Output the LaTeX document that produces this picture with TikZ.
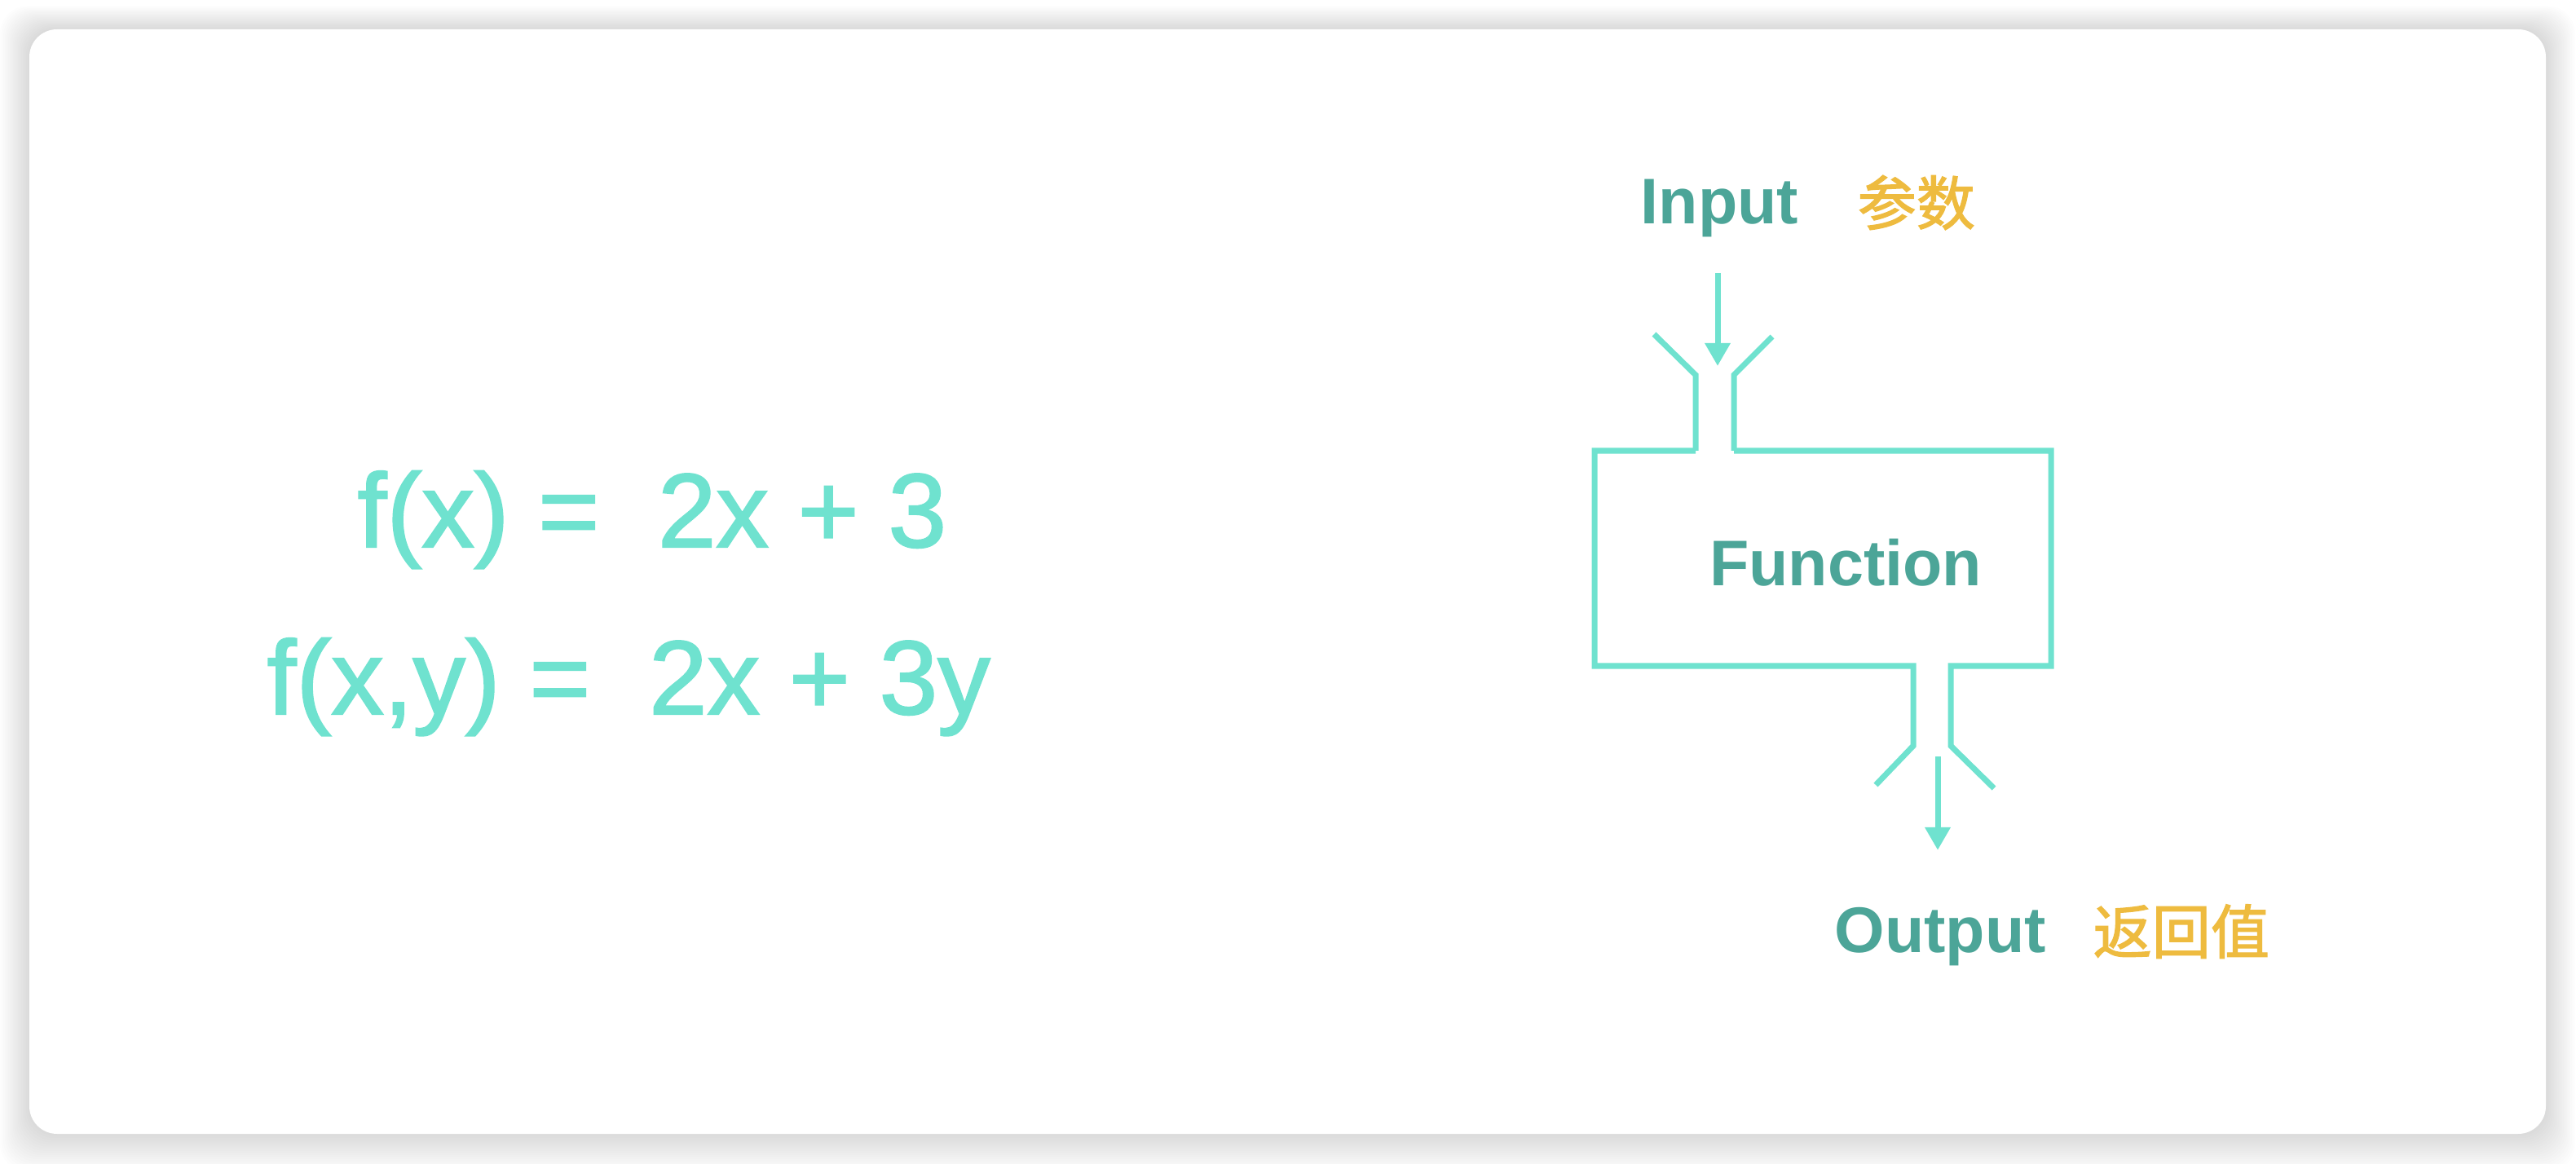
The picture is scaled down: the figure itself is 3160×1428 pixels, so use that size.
\documentclass[tikz,border=0pt]{standalone}
\usepackage{fontspec}
\setmainfont{Liberation Sans}
\newfontfamily\cjk[FakeBold=1.8]{Noto Sans CJK SC}
\newfontfamily\formfont[FakeBold=1.6]{Liberation Sans}
\usetikzlibrary{arrows.meta}
\definecolor{tealtext}{HTML}{4CA598}
\definecolor{aqua}{HTML}{6FE2CF}
\definecolor{gold}{HTML}{EEBB3F}
\tikzset{
  lbl/.style={inner sep=0pt, anchor=base west, text=tealtext, font=\fontsize{22.5}{26}\selectfont\bfseries},
  cjklbl/.style={inner sep=0pt, anchor=base west, text=gold, font=\fontsize{20.5}{24}\selectfont\cjk},
  formula/.style={inner sep=0pt, anchor=base west, text=aqua, font=\fontsize{36.6}{42}\selectfont\formfont},
  wire/.style={draw=aqua, line width=2pt, line join=miter},
  flow/.style={draw=aqua, line width=2pt, -{Triangle[length=8pt, width=8.5pt]}},
}
\begin{document}
\begin{tikzpicture}[x=0.01cm, y=-0.01cm]
\useasboundingbox (0,0) rectangle (3160,1428);
\fill[white] (0,0) rectangle (3160,1428);
% soft shadow
\foreach \i in {1,...,18} {
  \fill[black, opacity=0.007, rounded corners=0.34cm]
    ({36-2*\i},{36-1.6*\i}) rectangle ({3123+2*\i},{1391+2.6*\i});
}
\fill[white, rounded corners=0.34cm] (36,36) rectangle (3123,1391);

% formulas
\node[formula] (f1) at (438,671) {f(x) =\ \ 2x + 3};
\node[formula] (f2) at (327,876) {f(x,y) =\ \ 2x + 3y};

% labels
\node[lbl] (inp) at (2012,275) {Input};
\node[cjklbl] (canshu) at (2278,276) {参数};
\node[lbl, anchor=base] (fn) at (2264,719) {Function};
\node[lbl] (outp) at (2250,1168) {Output};
\node[cjklbl] (fanhui) at (2567,1170) {返回值};

% function box outline
\coordinate (tl) at (1956,553);
\coordinate (tr) at (2516,553);
\coordinate (bl) at (1956,817);
\coordinate (br) at (2516,817);
\coordinate (inL) at (2080,553);
\coordinate (inR) at (2127,553);
\coordinate (outL) at (2347,817);
\coordinate (outR) at (2393,817);

\draw[wire] (inL) -- (tl) -- (bl) -- (outL) -- ++(0,98) -- (2301,963);
\draw[wire] (inL) -- ++(0,-93) -- (2029,410);
\draw[wire] (inR) -- ++(0,-93) -- (2174,413);
\draw[wire] (inR) -- (tr) -- (br) -- (outR) -- ++(0,98) -- (2446,967);

% arrows
\coordinate (inA) at (2107,335);
\coordinate (inB) at (2107,449);
\coordinate (outA) at (2377,928);
\coordinate (outB) at (2377,1043);
\draw[flow] (inA) -- (inB);
\draw[flow] (outA) -- (outB);
\end{tikzpicture}
\end{document}
